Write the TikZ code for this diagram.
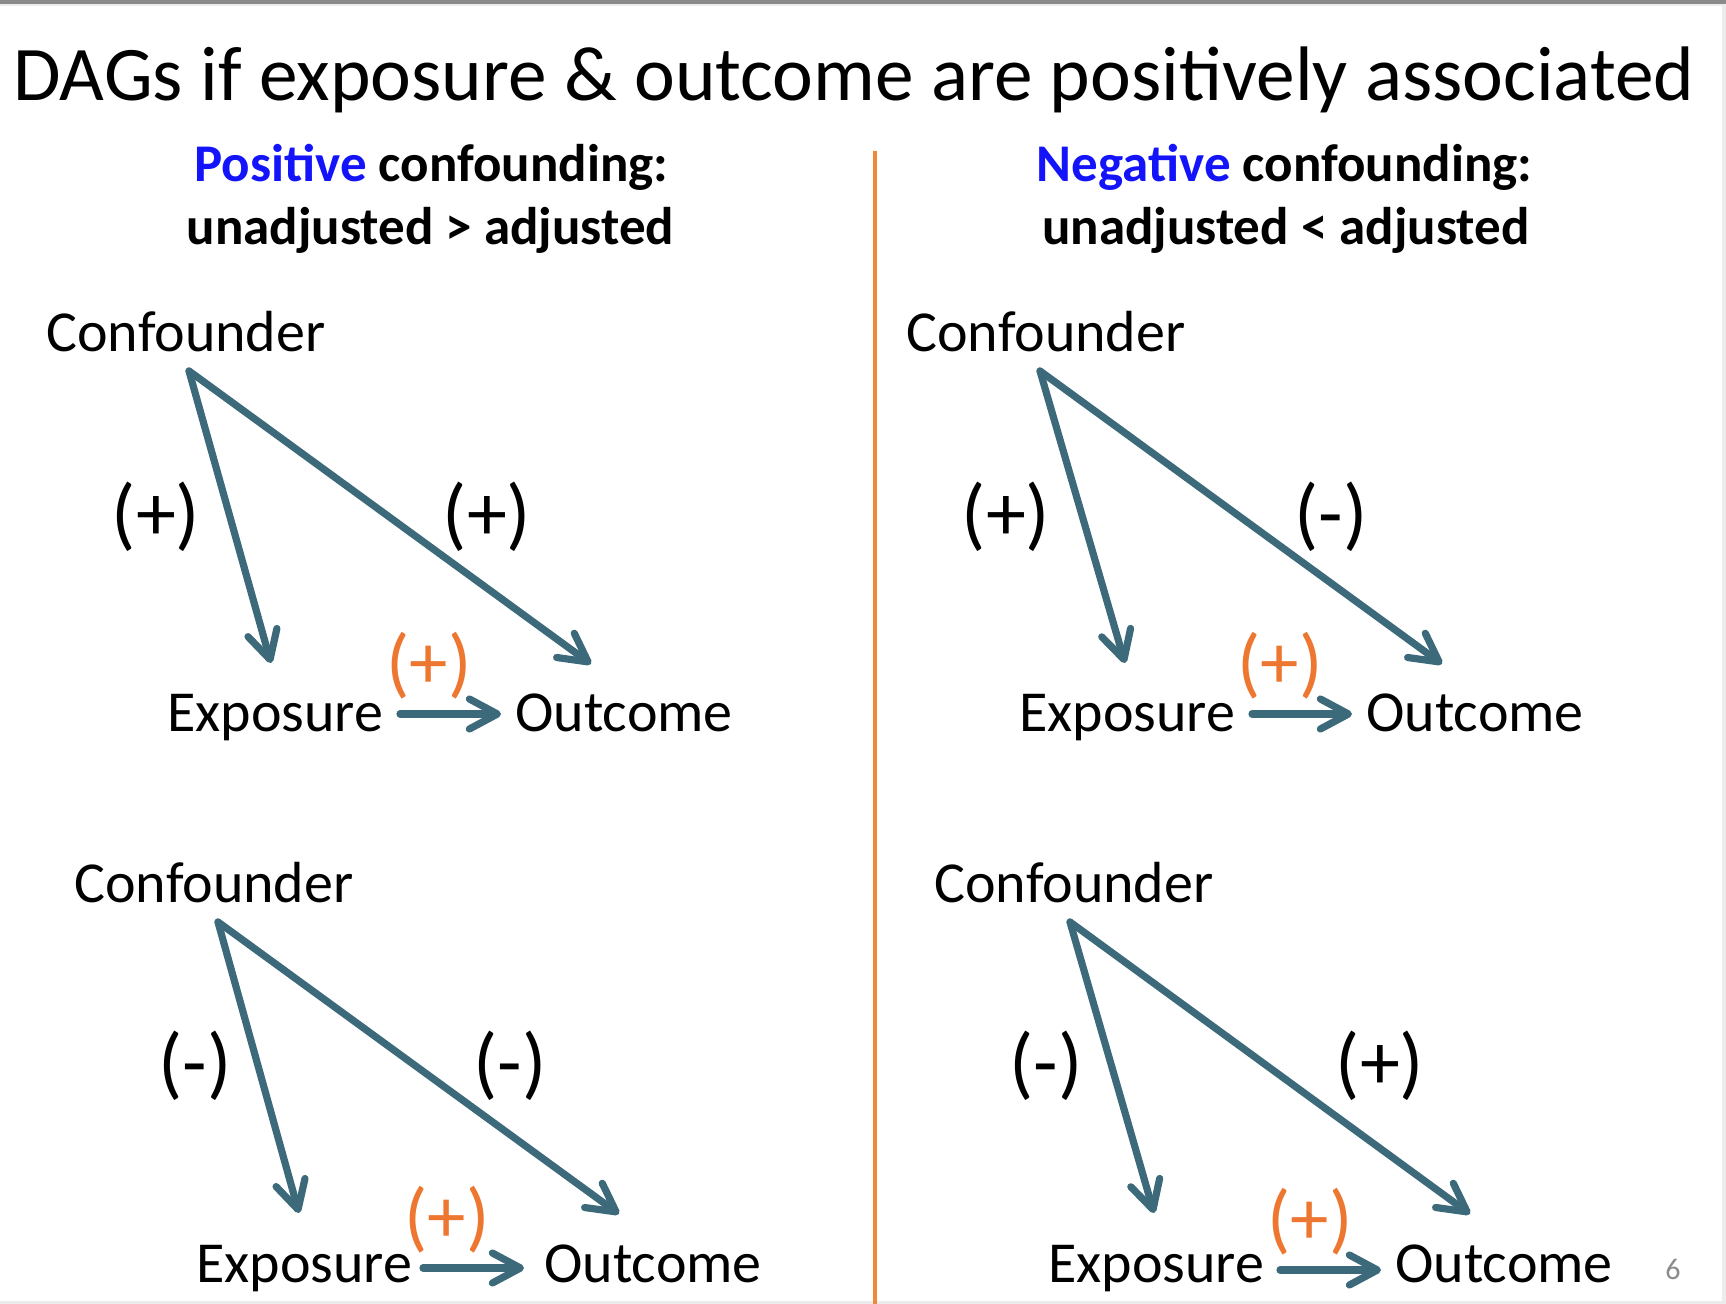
\documentclass[tikz,border=0pt]{standalone}
\usepackage{fontspec}
\setmainfont{Carlito}
\usetikzlibrary{arrows.meta}
\definecolor{arrowteal}{RGB}{61,106,122}
\definecolor{labelorange}{RGB}{237,118,48}
\definecolor{lineorange}{RGB}{240,136,58}
\definecolor{posblue}{RGB}{20,20,250}
\definecolor{topgray}{RGB}{138,138,138}
\definecolor{edgegray}{RGB}{236,236,236}
\definecolor{pagegray}{RGB}{140,140,140}
\tikzset{
  txt/.style={inner sep=0pt, anchor=base west, font=\fontsize{29}{35}\selectfont},
  sub/.style={inner sep=0pt, anchor=base, font=\bfseries\fontsize{26.5}{32}\selectfont},
  sign/.style={inner sep=0pt, anchor=center, font=\fontsize{40}{46}\selectfont},
  osign/.style={sign, text=labelorange, font=\fontsize{38.5}{44}\selectfont},
  causal/.style={draw=arrowteal, line width=3.6pt, line cap=round,
    -{Straight Barb[length=14pt,width=15pt,round]},
    preaction={draw=black, opacity=0.18, transform canvas={shift={(1.5,2.5)}}}},
}
\begin{document}
\begin{tikzpicture}[x=0.5pt,y=-0.5pt]
\useasboundingbox (0,0) rectangle (1726,1304);
% frame
\fill[topgray] (0,0) rectangle (1726,4.5);
\fill[edgegray] (0,4.5) rectangle (1726,6.5);
\fill[edgegray] (0,1301) rectangle (1726,1304);
\fill[edgegray] (1722,6.5) rectangle (1726,1304);
% title
\node[txt, font=\fontsize{38.65}{46}\selectfont] (title) at (13,101) {DAGs if exposure \& outcome are positively associated};
% subtitles
\node[sub] (posA) at (431.5,181.6) {\textcolor{posblue}{Positive} confounding:};
\node[sub] (posB) at (430.4,244.4) {unadjusted > adjusted};
\node[sub] (negA) at (1284.6,181.6) {\textcolor{posblue}{Negative} confounding:};
\node[sub] (negB) at (1285.7,244.4) {unadjusted < adjusted};
% divider
\coordinate (divT) at (875,151);
\coordinate (divB) at (875,1304);
\draw[lineorange, line width=2pt] (divT) -- (divB);

% ---------- panel 1 ----------
\node[txt] (c1) at (46,352) {Confounder};
\coordinate (v1) at (189,371);
\coordinate (et1) at (271,663);
\coordinate (ot1) at (591,664);
\node[txt] (e1) at (167,732) {Exposure};
\node[txt] (o1) at (515,732) {Outcome};
\coordinate (ea1) at (400,714);
\coordinate (ob1) at (501,714);
\draw[causal] (v1) -- (et1);
\draw[causal] (v1) -- (ot1);
\draw[causal] (ea1) -- (ob1);
\node[sign] (l1a) at (156,517) {(+)};
\node[sign] (l1b) at (487,517) {(+)};
\node[osign] (l1c) at (429,666) {(+)};

% ---------- panel 2 ----------
\node[txt] (c2) at (906,352) {Confounder};
\coordinate (v2) at (1040,371);
\coordinate (et2) at (1125,663);
\coordinate (ot2) at (1442,664);
\node[txt] (e2) at (1019,732) {Exposure};
\node[txt] (o2) at (1366,732) {Outcome};
\coordinate (ea2) at (1252,714);
\coordinate (ob2) at (1352,714);
\draw[causal] (v2) -- (et2);
\draw[causal] (v2) -- (ot2);
\draw[causal] (ea2) -- (ob2);
\node[sign] (l2a) at (1006,517) {(+)};
\node[sign] (l2b) at (1331,517) {(-)};
\node[osign] (l2c) at (1280,666) {(+)};

% ---------- panel 3 ----------
\node[txt] (c3) at (74,903) {Confounder};
\coordinate (v3) at (218,922);
\coordinate (et3) at (299,1213);
\coordinate (ot3) at (619,1214);
\node[txt] (e3) at (196,1282) {Exposure};
\node[txt] (o3) at (544,1282) {Outcome};
\coordinate (ea3) at (423,1268);
\coordinate (ob3) at (524,1268);
\draw[causal] (v3) -- (et3);
\draw[causal] (v3) -- (ot3);
\draw[causal] (ea3) -- (ob3);
\node[sign] (l3a) at (195,1066) {(-)};
\node[sign] (l3b) at (510,1066) {(-)};
\node[osign] (l3c) at (447,1220) {(+)};

% ---------- panel 4 ----------
\node[txt] (c4) at (934,903) {Confounder};
\coordinate (v4) at (1070,922);
\coordinate (et4) at (1154,1213);
\coordinate (ot4) at (1470,1214);
\node[txt] (e4) at (1048,1282) {Exposure};
\node[txt] (o4) at (1395,1282) {Outcome};
\coordinate (ea4) at (1280,1270);
\coordinate (ob4) at (1381,1270);
\draw[causal] (v4) -- (et4);
\draw[causal] (v4) -- (ot4);
\draw[causal] (ea4) -- (ob4);
\node[sign] (l4a) at (1046,1066) {(-)};
\node[sign] (l4b) at (1380,1066) {(+)};
\node[osign] (l4c) at (1310,1222) {(+)};

% page number
\node[inner sep=0pt, anchor=base, text=pagegray, font=\fontsize{15}{18}\selectfont] (pg) at (1673,1279) {6};
\end{tikzpicture}
\end{document}
